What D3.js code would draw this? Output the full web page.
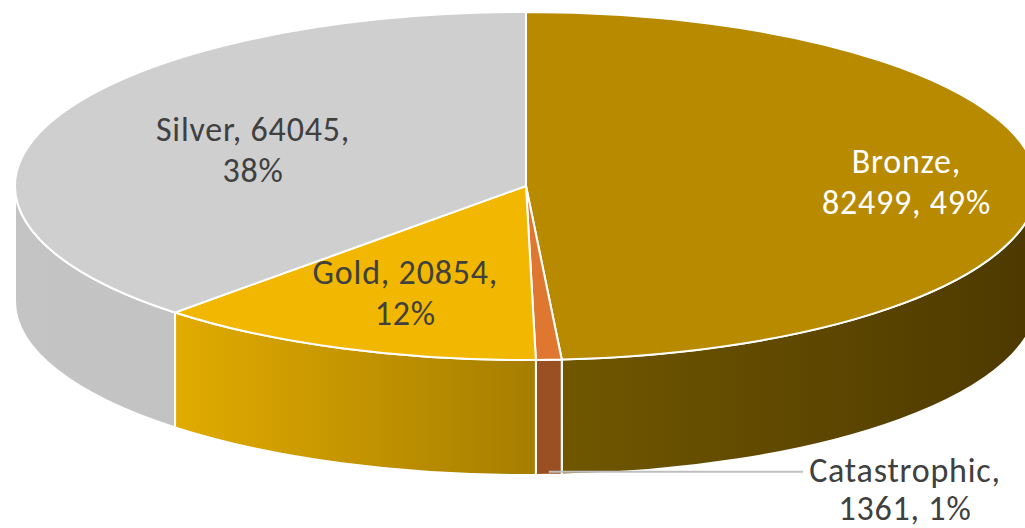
<!DOCTYPE html>
<html><head><meta charset="utf-8">
<script src="https://cdn.jsdelivr.net/npm/d3@7"></script>
<style>body{margin:0;background:#fff}svg{display:block}</style>
</head><body><svg id="c" width="1025" height="528"></svg>
<script>
// ---- data ----
const categories = ["Bronze", "Catastrophic", "Gold", "Silver"];
const values = [82499, 1361, 20854, 64045];
const percentLabels = ["49%", "1%", "12%", "38%"];
// label line splits as shown in the chart
const labelLines = [
  ["Bronze,", "82499, 49%"],
  ["Catastrophic,", "1361, 1%"],
  ["Gold, 20854,", "12%"],
  ["Silver, 64045,", "38%"]
];

// ---- style ----
const topColors = ["#B88A00", "#E07730", "#F2B700", "#CFCFCF"];
const sideLeft = ["#705700", "#9B5023", "#E1AB00", "#C4C4C4"];
const sideRight = ["#4D3900", "#9A4F22", "#A67E00", "#C3C3C3"];
const labelColors = ["#FFFFFF", "#404040", "#404040", "#404040"];

const cx = 526, cy = 186, rx = 511, ry = 174, depth = 115;
const fontSize = 34, lineGap = 41;

const svg = d3.select("#c");
const defs = svg.append("defs");

const pie = d3.pie().sort(null).startAngle(0).endAngle(2 * Math.PI);
const arcs = pie(values);

const P = (a, dy = 0) => [cx + rx * Math.sin(a), cy - ry * Math.cos(a) + dy];

// sides (front half only: angles between PI/2 and 3PI/2)
arcs.forEach((d, i) => {
  const s = Math.max(d.startAngle, Math.PI / 2);
  const e = Math.min(d.endAngle, 3 * Math.PI / 2);
  if (e <= s) return;
  const xs = d3.range(0, 41).map(k => P(s + (e - s) * k / 40)[0]);
  const gid = "g" + i;
  const g = defs.append("linearGradient").attr("id", gid)
    .attr("gradientUnits", "userSpaceOnUse")
    .attr("x1", d3.min(xs)).attr("x2", d3.max(xs)).attr("y1", 0).attr("y2", 0);
  g.append("stop").attr("offset", 0).attr("stop-color", sideLeft[i]);
  g.append("stop").attr("offset", 1).attr("stop-color", sideRight[i]);
  const p0 = P(s), p1 = P(e), q1 = P(e, depth), q0 = P(s, depth);
  const large = (e - s) > Math.PI ? 1 : 0;
  const path = `M${p0} A${rx},${ry} 0 ${large} 1 ${p1} L${q1} A${rx},${ry} 0 ${large} 0 ${q0} Z`;
  svg.append("path").attr("d", path).attr("fill", `url(#${gid})`)
    .attr("stroke", "#fff").attr("stroke-width", 2).attr("stroke-linejoin", "round");
});

// top faces
arcs.forEach((d, i) => {
  const p0 = P(d.startAngle), p1 = P(d.endAngle);
  const large = (d.endAngle - d.startAngle) > Math.PI ? 1 : 0;
  const path = `M${cx},${cy} L${p0} A${rx},${ry} 0 ${large} 1 ${p1} Z`;
  svg.append("path").attr("d", path).attr("fill", topColors[i])
    .attr("stroke", "#fff").attr("stroke-width", 2).attr("stroke-linejoin", "round");
});

// labels
const labelRadius = [0.745, null, 0.655, 0.575];
const font = "Carlito, Calibri, Lato, sans-serif";
arcs.forEach((d, i) => {
  const mid = (d.startAngle + d.endAngle) / 2;
  let x, y, gap = lineGap;
  if (labelRadius[i] != null) {
    [x, y] = [cx + rx * labelRadius[i] * Math.sin(mid), cy - ry * labelRadius[i] * Math.cos(mid)];
    y -= lineGap / 2;
  } else {
    const b = P(mid, depth - 3);
    x = 905; y = b[1] - 2; gap = 38;
    svg.append("line").attr("x1", b[0]).attr("y1", b[1]).attr("x2", 803).attr("y2", b[1])
      .attr("stroke", "#BFBFBF").attr("stroke-width", 2);
  }
  const t = svg.append("text").attr("x", x).attr("y", y)
    .attr("text-anchor", "middle").attr("fill", labelColors[i])
    .attr("font-family", font).attr("font-size", fontSize)
    .attr("letter-spacing", "0.8px");
  labelLines[i].forEach((ln, k) => {
    t.append("tspan").attr("x", x).attr("y", y + k * gap).attr("dy", "0.36em").text(ln);
  });
});
</script>
</body></html>
